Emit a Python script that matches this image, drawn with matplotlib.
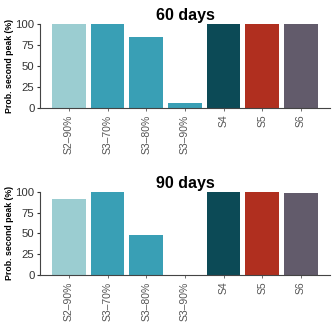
import matplotlib
matplotlib.use("Agg")
import matplotlib.pyplot as plt
import numpy as np

categories = ['S2\u201390%', 'S3\u201370%', 'S3\u201380%', 'S3\u201390%', 'S4', 'S5', 'S6']
prob_60 = [100, 100, 84, 6, 100, 100, 100]
prob_90 = [92, 100, 48, 0, 100, 100, 99]
colors = ['#9bcdd1', '#399fb5', '#399fb5', '#399fb5', '#0c4a56', '#b02f1f', '#625b6b']

plt.rcParams['font.family'] = ['Liberation Sans', 'DejaVu Sans']

fig = plt.figure(figsize=(3.36, 3.23), dpi=100)
ax1 = fig.add_axes([0.119, 0.666, 0.863, 0.26])
ax2 = fig.add_axes([0.119, 0.149, 0.863, 0.257])

x = np.arange(len(categories))
for ax, vals, title in [(ax1, prob_60, '60 days'), (ax2, prob_90, '90 days')]:
    ax.bar(x, vals, width=0.87, color=colors)
    ax.set_xlim(-0.75, 6.75)
    ax.set_ylim(0, 100)
    ax.set_yticks([0, 25, 50, 75, 100])
    ax.set_xticks(x)
    ax.set_xticklabels(categories, rotation=90, fontsize=7.5, color='#333333')
    ax.tick_params(axis='y', labelsize=8.2, colors='#333333', length=2.5, width=0.8, pad=1.5)
    ax.tick_params(axis='x', length=2, width=0.6, pad=3, colors='#555555')
    ax.spines['top'].set_visible(False)
    ax.spines['right'].set_visible(False)
    ax.spines['left'].set_color('#444444')
    ax.spines['bottom'].set_color('#444444')
    ax.set_ylabel('Prob. second peak (%)', fontsize=6.3, fontweight='bold', labelpad=1)
    ax.set_title(title, fontsize=11.5, fontweight='bold', pad=3)

fig.savefig('out.png', dpi=100)
